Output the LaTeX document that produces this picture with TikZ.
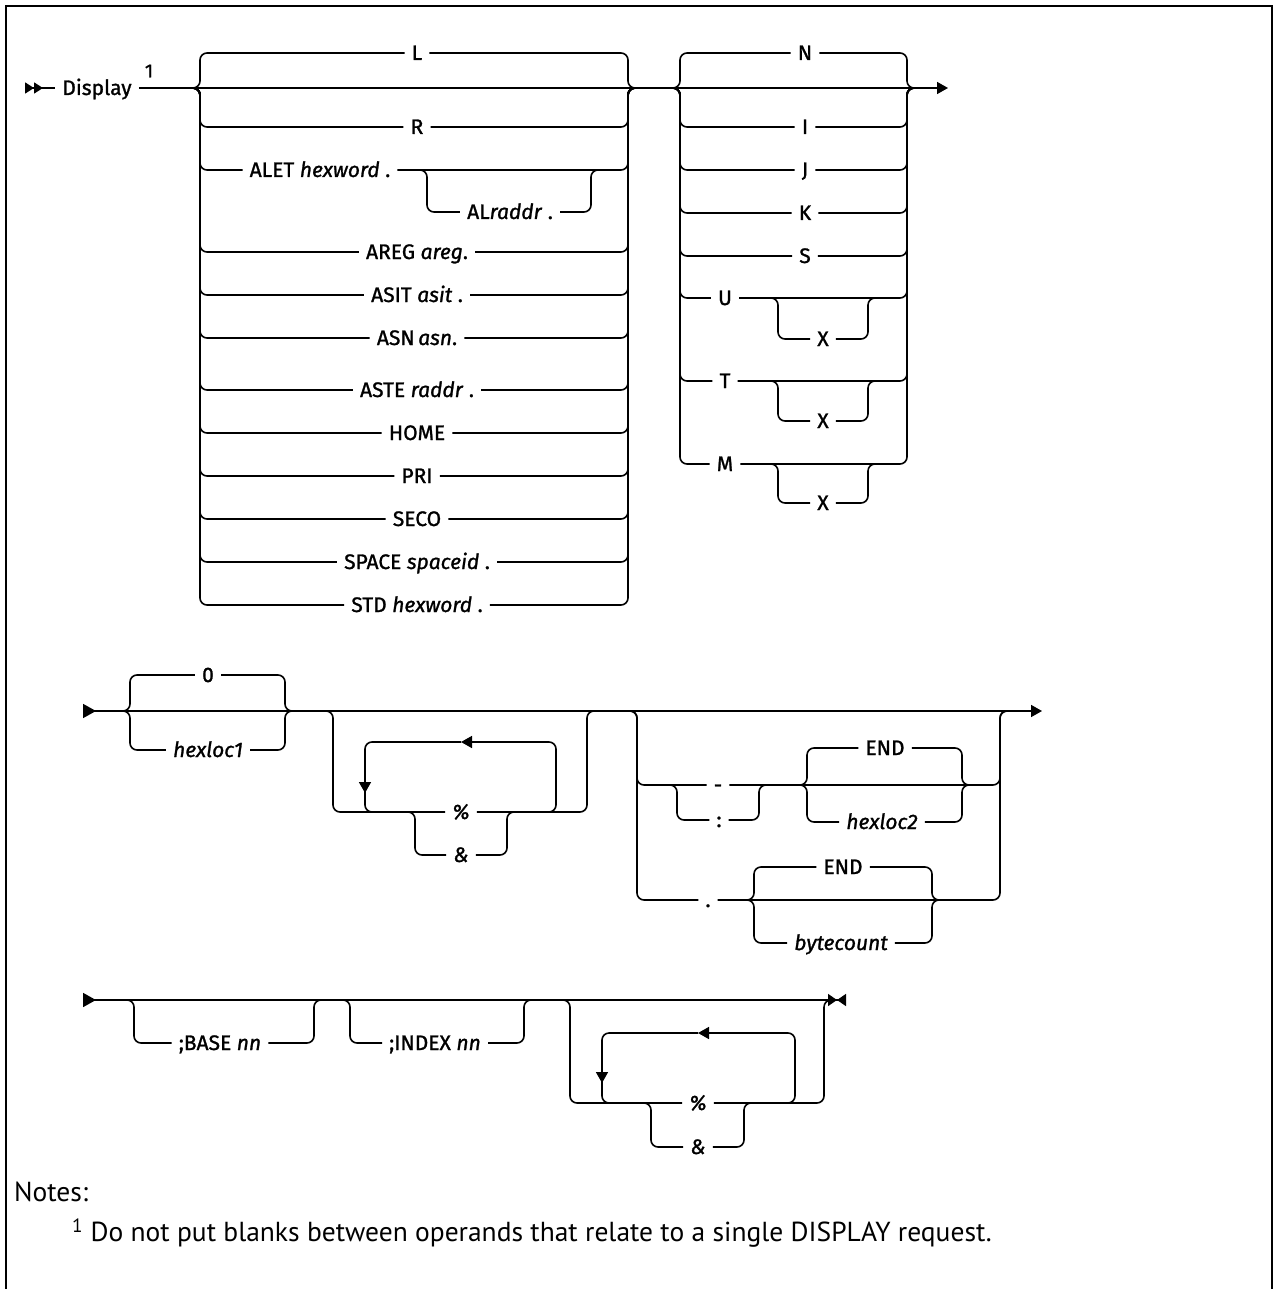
\documentclass[tikz,border=0pt]{standalone}
\usepackage{fontspec}
\setmainfont{Fira Sans}
\newfontfamily\railfont[FakeBold=1.2]{Fira Sans}
\newfontfamily\notefont{PT Sans}
\usetikzlibrary{arrows.meta}

\begin{document}
\begin{tikzpicture}[x=1pt,y=-1pt,
  rail/.style={line width=1.6pt,rounded corners=7pt},
  kw/.style={font=\railfont\fontsize{21}{24}\selectfont,text height=14pt,text depth=0pt,inner xsep=7pt,inner ysep=0pt},
  var/.style={kw,font=\railfont\fontsize{21}{24}\selectfont\itshape},
  note/.style={anchor=west,inner sep=0pt,font=\notefont\fontsize{27.5}{30}\selectfont},
  tipend/.style={-{Triangle[length=11pt,width=12pt]}}]
\useasboundingbox (0,0) rectangle (1274,1289);
% frame
\draw[line width=2.5pt] (6,1289) -- (6,6) -- (1272,6) -- (1272,1289);

% first row
\coordinate (s1) at (25,88);
\coordinate (e1) at (948,88);
\node[kw] (disp) at (97,88) {Display};
\node[font=\railfont\fontsize{19}{22}\selectfont,inner sep=0pt] (fn1) at (149,71) {1};
\draw[rail,{Triangle[reversed,length=9pt,width=11pt]Triangle[reversed,length=9pt,width=11pt]}-] (s1) -- (disp);
\draw[rail,tipend] (disp) -- (e1);
% address space
\node[kw] (L) at (417,53) {L};
\draw[rail] (190,88) -| (200,53) -- (L) -- (628,53) |- (638,88);
\node[kw] (alet) at (320,170) {ALET \textit{hexword} .};
\draw[rail] (190,88) -| (200,170) -- (alet) -- (628,170) |- (638,88);
\node[kw] (alr) at (510,212) {AL\textit{raddr} .};
\draw[rail] (417,170) -| (427,212) -- (alr) -- (591,212) |- (601,170);
\foreach \y/\name/\txt in {127/R/R,252/areg/{AREG \textit{areg}.},295/asit/{ASIT \textit{asit} .},
  338/asn/{ASN\,\textit{asn}.},390/aste/{ASTE \textit{raddr} .},433/home/HOME,476/pri/PRI,
  519/seco/SECO,562/space/{SPACE \textit{spaceid} .},605/std/{STD \textit{hexword} .}}{
  \node[kw] (\name) at (417,\y) {\txt};
  \draw[rail] (190,88) -| (200,\y) -- (\name) -- (628,\y) |- (638,88);
}
% format
\node[kw] (N) at (805,53) {N};
\draw[rail] (670,88) -| (680,53) -- (N) -- (907,53) |- (917,88);
\foreach \y/\name in {127/I,170/J,213/K,256/S}{
  \node[kw] (\name) at (805,\y) {\name};
  \draw[rail] (670,88) -| (680,\y) -- (\name) -- (907,\y) |- (917,88);
}
\foreach \y/\name/\yx in {298/U/339,381/T/421,464/M/503}{
  \node[kw] (\name) at (725,\y) {\name};
  \draw[rail] (670,88) -| (680,\y) -- (\name) -- (907,\y) |- (917,88);
  \node[kw] (x\name) at (823,\yx) {X};
  \draw[rail] (768,\y) -| (778,\yx) -- (x\name) -- (868,\yx) |- (878,\y);
}

% second row
\coordinate (s2) at (83,711);
\coordinate (e2) at (1042,711);
\draw[rail,{Triangle[reversed,length=13pt,width=14pt]}-{Triangle[length=11pt,width=12pt]}] (s2) -- (e2);
\node[kw] (zero) at (208,675) {0};
\node[var] (hl1) at (208,750) {hexloc1};
\draw[rail] (120,711) -| (130,675) -- (zero) -- (285,675) |- (295,711);
\draw[rail] (120,711) -| (130,750) -- (hl1) -- (285,750) |- (295,711);
% repeat
\node[var] (pct1) at (461,812) {\%};
\draw[rail] (323,711) -| (333,812) -- (pct1) -- (587,812) |- (597,711);
\draw[rail,tipend] (546,812) -| (556,742) -- (461,742);
\draw[rail,-{Triangle[length=11pt,width=12pt]}] (461,742) -| (365,793);
\draw[rail] (365,790) |- (375,812);
\node[var] (amp1) at (461,855) {\&};
\draw[rail] (405,812) -| (415,855) -- (amp1) -- (507,855) |- (517,812);
% range
\node[kw] (dash) at (718,785) {-};
\draw[rail] (627,711) -| (637,785) -- (dash) -- (1000,785) |- (1010,711);
\node[kw] (colon) at (719,820) {:};
\draw[rail] (667,785) -| (677,820) -- (colon) -- (759,820) |- (769,785);
\node[kw] (end1) at (885,748) {END};
\node[var] (hl2) at (882,822) {hexloc2};
\draw[rail] (797,785) -| (807,748) -- (end1) -- (962,748) |- (972,785);
\draw[rail] (797,785) -| (807,822) -- (hl2) -- (962,822) |- (972,785);
\node[kw] (dot) at (708,900) {.};
\draw[rail] (627,711) -| (637,900) -- (dot) -- (1000,900) |- (1010,711);
\node[kw] (end2) at (843,867) {END};
\node[var] (bc) at (841,943) {bytecount};
\draw[rail] (744,900) -| (754,867) -- (end2) -- (932,867) |- (942,900);
\draw[rail] (744,900) -| (754,943) -- (bc) -- (932,943) |- (942,900);

% third row
\coordinate (s3) at (83,1000);
\coordinate (e3) at (846,1000);
\draw[rail,{Triangle[reversed,length=13pt,width=14pt]}-{Triangle[length=9pt,width=12pt]Triangle[reversed,length=9pt,width=12pt]}] (s3) -- (e3);
\node[kw] (base) at (220,1043) {;BASE \textit{nn}};
\draw[rail] (124,1000) -| (134,1043) -- (base) -- (314,1043) |- (324,1000);
\node[kw] (index) at (435,1043) {;INDEX \textit{nn}};
\draw[rail] (340,1000) -| (350,1043) -- (index) -- (524,1043) |- (534,1000);
% repeat
\node[var] (pct2) at (698,1103) {\%};
\draw[rail] (560,1000) -| (570,1103) -- (pct2) -- (824,1103) |- (834,1000);
\draw[rail,tipend] (785,1103) -| (795,1033) -- (698,1033);
\draw[rail,-{Triangle[length=11pt,width=12pt]}] (698,1033) -| (602,1083);
\draw[rail] (602,1080) |- (612,1103);
\node[var] (amp2) at (698,1147) {\&};
\draw[rail] (641,1103) -| (651,1147) -- (amp2) -- (744,1147) |- (754,1103);

% notes
\node[note] (notes) at (14,1192) {Notes:};
\node[note] (note1) at (72,1233) {\textsuperscript{1} Do not put blanks between operands that relate to a single DISPLAY request.};
\end{tikzpicture}
\end{document}
